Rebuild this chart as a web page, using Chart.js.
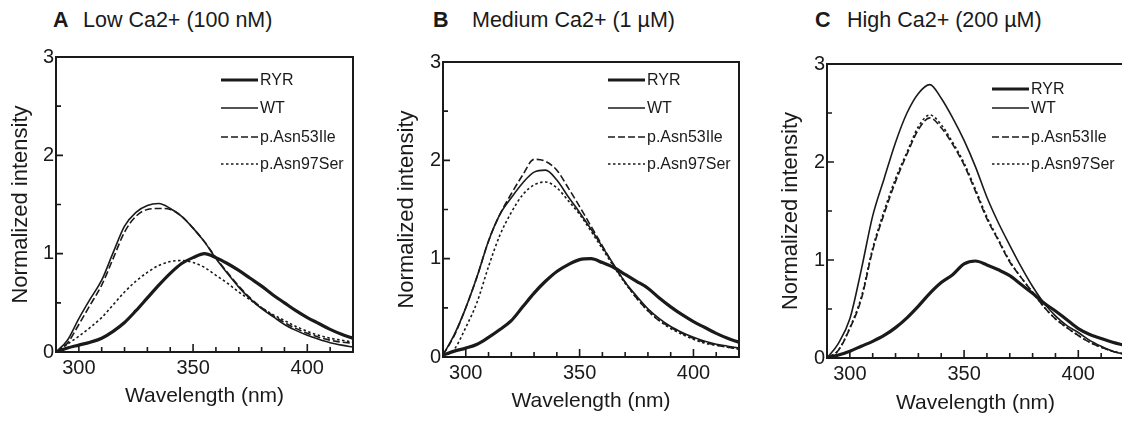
<!DOCTYPE html>
<html>
<head>
<meta charset="utf-8">
<script src="https://cdn.jsdelivr.net/npm/chart.js@4.4.1/dist/chart.umd.min.js"></script>
<style>
  html, body { margin: 0; padding: 0; background: #fff; overflow: hidden; }
  body { width: 1122px; height: 421px; position: relative; font-family: "Liberation Sans", Arial, sans-serif; color: #1a1a1a; }
  canvas { position: absolute; top: 0; }
  .ttl { position: absolute; top: 8px; font-size: 21.5px; line-height: 24px; white-space: nowrap; }
  .ttl.letter { font-weight: bold; }
</style>
</head>
<body>
<div class="ttl letter" style="left:53px">A</div>
<div class="ttl" style="left:83px">Low Ca2+ (100 nM)</div>
<div class="ttl letter" style="left:433px">B</div>
<div class="ttl" style="left:472px">Medium Ca2+ (1 µM)</div>
<div class="ttl letter" style="left:815px">C</div>
<div class="ttl" style="left:847px">High Ca2+ (200 µM)</div>

<canvas id="lowChart" width="359" height="421" style="left:0px"></canvas>
<canvas id="midChart" width="359" height="421" style="left:386px"></canvas>
<canvas id="highChart" width="360" height="421" style="left:770px"></canvas>

<script>
// wavelength grid (nm)
const wavelengths = [290, 295, 300, 305, 310, 315, 320, 325, 330, 335, 340, 345, 350, 355,
    360, 365, 370, 375, 380, 385, 390, 395, 400, 405, 410, 415, 420];

const seriesNames = ['RYR', 'WT', 'p.Asn53Ile', 'p.Asn97Ser'];

// A - Low Ca2+ (100 nM)
const lowRYR  = [0.00, 0.04, 0.07, 0.10, 0.14, 0.21, 0.30, 0.42, 0.55, 0.68, 0.80, 0.90, 0.96, 1.00,
    0.96, 0.90, 0.83, 0.75, 0.67, 0.58, 0.50, 0.42, 0.35, 0.29, 0.23, 0.18, 0.14];
const lowWT   = [0.00, 0.12, 0.34, 0.54, 0.73, 1.01, 1.28, 1.42, 1.49, 1.51, 1.46, 1.38, 1.26, 1.12,
    0.95, 0.80, 0.66, 0.54, 0.44, 0.36, 0.28, 0.22, 0.17, 0.13, 0.095, 0.07, 0.05];
const lowN53I = [0.00, 0.09, 0.28, 0.48, 0.68, 0.95, 1.22, 1.38, 1.45, 1.46, 1.45, 1.38, 1.26, 1.12,
    0.96, 0.81, 0.67, 0.55, 0.45, 0.37, 0.30, 0.24, 0.19, 0.15, 0.12, 0.10, 0.09];
const lowN97S = [0.00, 0.08, 0.16, 0.25, 0.35, 0.48, 0.61, 0.72, 0.81, 0.88, 0.92, 0.93, 0.91, 0.86,
    0.78, 0.70, 0.61, 0.53, 0.45, 0.38, 0.32, 0.26, 0.21, 0.17, 0.14, 0.12, 0.10];

// B - Medium Ca2+ (1 uM)
const midRYR  = [0.02, 0.06, 0.09, 0.13, 0.20, 0.28, 0.37, 0.51, 0.65, 0.77, 0.87, 0.94, 0.99, 1.00,
    0.96, 0.91, 0.84, 0.77, 0.70, 0.60, 0.51, 0.43, 0.36, 0.30, 0.24, 0.19, 0.15];
const midWT   = [0.02, 0.23, 0.50, 0.82, 1.18, 1.45, 1.62, 1.77, 1.88, 1.90, 1.80, 1.63, 1.47, 1.30,
    1.12, 0.94, 0.76, 0.62, 0.49, 0.39, 0.31, 0.25, 0.20, 0.16, 0.13, 0.11, 0.09];
const midN53I = [0.02, 0.22, 0.50, 0.82, 1.18, 1.45, 1.66, 1.85, 2.01, 1.99, 1.90, 1.72, 1.53, 1.33,
    1.13, 0.93, 0.76, 0.60, 0.47, 0.37, 0.30, 0.24, 0.19, 0.15, 0.12, 0.10, 0.08];
const midN97S = [0.00, 0.08, 0.30, 0.56, 0.92, 1.24, 1.47, 1.65, 1.75, 1.78, 1.72, 1.59, 1.45, 1.28,
    1.10, 0.92, 0.75, 0.60, 0.47, 0.37, 0.29, 0.23, 0.18, 0.14, 0.12, 0.10, 0.08];

// C - High Ca2+ (200 uM)
const highRYR  = [0.00, 0.03, 0.07, 0.12, 0.17, 0.23, 0.31, 0.41, 0.53, 0.66, 0.77, 0.85, 0.96, 0.99,
    0.95, 0.90, 0.84, 0.75, 0.66, 0.56, 0.48, 0.39, 0.30, 0.24, 0.20, 0.16, 0.13];
const highWT   = [0.00, 0.15, 0.40, 0.90, 1.45, 1.83, 2.20, 2.50, 2.70, 2.79, 2.65, 2.45, 2.22, 1.95,
    1.64, 1.38, 1.15, 0.93, 0.73, 0.56, 0.43, 0.33, 0.26, 0.18, 0.12, 0.07, 0.04];
const highN53I = [0.00, 0.08, 0.30, 0.60, 1.10, 1.47, 1.80, 2.08, 2.33, 2.45, 2.35, 2.18, 1.97, 1.70,
    1.42, 1.20, 0.98, 0.82, 0.67, 0.52, 0.40, 0.31, 0.23, 0.16, 0.11, 0.07, 0.04];
const highN97S = [0.00, 0.08, 0.31, 0.62, 1.12, 1.50, 1.83, 2.10, 2.36, 2.48, 2.38, 2.20, 1.99, 1.72,
    1.44, 1.21, 0.99, 0.82, 0.67, 0.52, 0.40, 0.31, 0.23, 0.16, 0.11, 0.07, 0.04];

const ink = '#1a1a1a';
const font = '"Liberation Sans", Arial, sans-serif';

// line style per series: RYR thick, WT thin, 53Ile dashed, 97Ser dotted
const lineStyles = [
    { borderWidth: 3.2, borderDash: [] },
    { borderWidth: 1.6, borderDash: [] },
    { borderWidth: 1.6, borderDash: [7, 3] },
    { borderWidth: 1.6, borderDash: [2.5, 2.5] }
];

// legend inside the plot (top right), inward ticks and the closed frame
const panelDecor = {
    id: 'panelDecor',
    afterDatasetsDraw(chart, args, opts) {
        const ctx = chart.ctx;
        const a = chart.chartArea;
        const xs = chart.scales.x;
        const ys = chart.scales.y;

        ctx.save();
        ctx.fillStyle = ink;
        ctx.strokeStyle = ink;
        ctx.font = '16px ' + font;
        ctx.textBaseline = 'middle';
        chart.data.datasets.forEach((ds, i) => {
            const x0 = a.left + opts.dx;
            const y0 = a.top + opts.rows[i];
            ctx.lineWidth = ds.borderWidth;
            ctx.setLineDash(ds.borderDash || []);
            ctx.beginPath();
            ctx.moveTo(x0, y0);
            ctx.lineTo(x0 + 37, y0);
            ctx.stroke();
            ctx.setLineDash([]);
            ctx.fillText(ds.label, x0 + 39, y0 + 1);
        });

        ctx.lineWidth = 1.6;
        ctx.beginPath();
        xs.ticks.forEach(t => {
            const px = xs.getPixelForValue(t.value);
            const len = t.value % 50 === 0 ? 8 : 5;
            ctx.moveTo(px, a.bottom);
            ctx.lineTo(px, a.bottom - len);
        });
        ys.ticks.forEach(t => {
            const py = ys.getPixelForValue(t.value);
            const len = Number.isInteger(t.value) ? 7 : 5;
            ctx.moveTo(a.left, py);
            ctx.lineTo(a.left + len, py);
        });
        ctx.stroke();

        ctx.lineWidth = 2;
        ctx.beginPath();
        ctx.moveTo(a.left, a.top);
        ctx.lineTo(a.right, a.top);
        ctx.lineTo(a.right, a.bottom);
        ctx.lineTo(a.left, a.bottom);
        ctx.closePath();
        ctx.stroke();
        ctx.restore();
    }
};

function makeChart(id, values, box) {
    const datasets = values.map((vals, i) => ({
        label: seriesNames[i],
        data: wavelengths.map((w, j) => ({ x: w, y: vals[j] })),
        borderColor: ink,
        borderWidth: lineStyles[i].borderWidth,
        borderDash: lineStyles[i].borderDash,
        pointRadius: 0,
        fill: false,
        cubicInterpolationMode: 'monotone'
    }));

    return new Chart(document.getElementById(id), {
        type: 'line',
        data: { datasets },
        plugins: [panelDecor],
        options: {
            responsive: false,
            animation: false,
            layout: { padding: { top: box.top, right: box.right, bottom: 0, left: 0 } },
            plugins: {
                legend: { display: false },
                tooltip: { enabled: false },
                panelDecor: { dx: 165, rows: box.rows }
            },
            scales: {
                x: {
                    type: 'linear',
                    min: 290,
                    max: 420,
                    grid: { display: false, drawTicks: false },
                    border: { display: false },
                    ticks: {
                        stepSize: 10,
                        autoSkip: false,
                        maxRotation: 0,
                        padding: 4,
                        color: ink,
                        font: { family: font, size: 20 },
                        callback: v => (v % 50 === 0 ? v : '')
                    },
                    title: {
                        display: true,
                        text: 'Wavelength (nm)',
                        color: ink,
                        font: { family: font, size: 21 },
                        padding: { top: 0, bottom: box.titleBottom }
                    },
                    afterFit: scale => { scale.height = box.xH; }
                },
                y: {
                    min: 0,
                    max: 3,
                    grid: { display: false, drawTicks: false },
                    border: { display: false },
                    ticks: {
                        stepSize: 0.5,
                        padding: 2,
                        color: ink,
                        font: { family: font, size: 20 },
                        callback: v => (Number.isInteger(v) ? v : '')
                    },
                    title: {
                        display: true,
                        text: 'Normalized intensity',
                        color: ink,
                        font: { family: font, size: 22 },
                        padding: { top: 8, bottom: 0 }
                    },
                    afterFit: scale => { scale.width = box.yW; }
                }
            }
        }
    });
}

makeChart('lowChart', [lowRYR, lowWT, lowN53I, lowN97S],
    { top: 57, right: 6, xH: 69, yW: 56, titleBottom: 12, rows: [23, 51, 80, 107] });
makeChart('midChart', [midRYR, midWT, midN53I, midN97S],
    { top: 62, right: 6, xH: 64, yW: 57, titleBottom: 7, rows: [18, 46, 75, 102] });
makeChart('highChart', [highRYR, highWT, highN53I, highN97S],
    { top: 64, right: 6, xH: 63, yW: 57, titleBottom: 5, rows: [25, 44, 73, 100] });
</script>
</body>
</html>
